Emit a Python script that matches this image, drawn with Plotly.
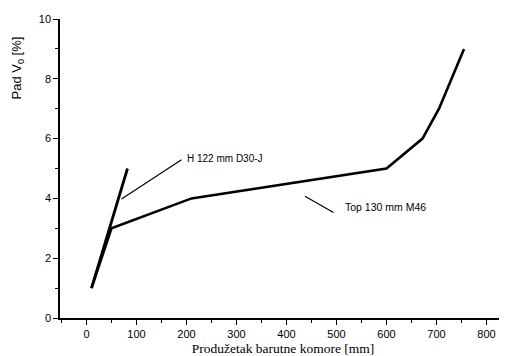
import plotly.graph_objects as go

# Series data
h122_x = [10, 82]
h122_y = [1, 5]
top130_x = [10, 50, 210, 600, 672, 705, 755]
top130_y = [1, 3, 4, 5, 6, 7, 9]

x_ticks = [0, 100, 200, 300, 400, 500, 600, 700, 800]
y_ticks = [0, 2, 4, 6, 8, 10]

label_h = "H 122 mm D30-J"
label_top = "Top 130 mm M46"
leader_h_x = [70, 190]
leader_h_y = [3.98, 5.29]
leader_top_x = [437, 494]
leader_top_y = [4.07, 3.53]

fig = go.Figure()
fig.add_trace(go.Scatter(x=h122_x, y=h122_y, mode="lines",
                         line=dict(color="black", width=2.8), showlegend=False))
fig.add_trace(go.Scatter(x=top130_x, y=top130_y, mode="lines",
                         line=dict(color="black", width=2.6), showlegend=False))

for lx, ly in [(leader_h_x, leader_h_y), (leader_top_x, leader_top_y)]:
    fig.add_shape(type="line", x0=lx[0], y0=ly[0], x1=lx[1], y1=ly[1],
                  xref="x", yref="y", line=dict(color="black", width=1.2))

fig.add_annotation(x=leader_h_x[1] + 6, y=leader_h_y[1] + 0.05, text=label_h,
                   xanchor="left", yanchor="middle", showarrow=False,
                   font=dict(family="Liberation Sans Narrow, Liberation Sans, Arial", size=10, color="black"))
fig.add_annotation(x=leader_top_x[1] + 18, y=leader_top_y[1] + 0.18, text=label_top,
                   xanchor="left", yanchor="middle", showarrow=False,
                   font=dict(family="Liberation Sans Narrow, Liberation Sans, Arial", size=10.5, color="black"))

fig.add_annotation(xref="paper", yref="paper", x=-0.096, y=0.835,
                   text="Pad V<sub>0</sub> [%]", textangle=-90, showarrow=False,
                   xanchor="center", yanchor="middle",
                   font=dict(family="Liberation Sans, Arial", size=13, color="black"))

fig.update_layout(
    width=499, height=348,
    margin=dict(l=52, r=1, t=11, b=38),
    paper_bgcolor="white", plot_bgcolor="white",
    xaxis=dict(range=[-53, 839], tickvals=x_ticks, ticktext=[str(v) for v in x_ticks],
               showgrid=False, zeroline=False, showline=True, linecolor="black", linewidth=1.5,
               ticks="outside", ticklen=5, tickwidth=1.2, tickcolor="black",
               minor=dict(ticks="outside", dtick=50, tick0=0, ticklen=3, tickcolor="black", tickwidth=1),
               tickfont=dict(family="Liberation Sans, Arial", size=11, color="black"),
               title=dict(text="Produžetak barutne komore [mm]", standoff=6,
                          font=dict(family="Liberation Serif, Times New Roman", size=13.5, color="black"))),
    yaxis=dict(range=[0, 10], tickvals=y_ticks, ticktext=[str(v) for v in y_ticks],
               showgrid=False, zeroline=False, showline=True, linecolor="black", linewidth=1.5,
               ticks="outside", ticklen=5, tickwidth=1.2, tickcolor="black",
               minor=dict(ticks="outside", dtick=1, tick0=0, ticklen=3, tickcolor="black", tickwidth=1),
               tickfont=dict(family="Liberation Sans, Arial", size=11, color="black")),
)

fig.write_html("out.html")
